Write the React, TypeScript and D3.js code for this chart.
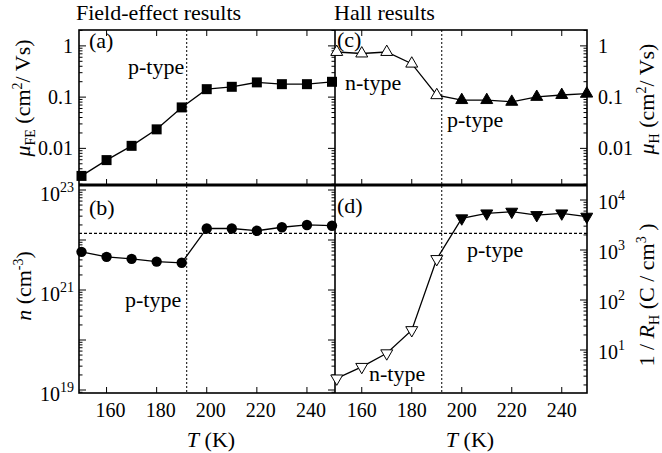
import React from 'react';
import * as d3 from 'd3';

// values
const temps = [150, 160, 170, 180, 190, 200, 210, 220, 230, 240, 250];
const muFE = [0.0029, 0.0059, 0.0112, 0.0235, 0.063, 0.143, 0.159, 0.194, 0.179, 0.179, 0.199];
const nFE = [5.8e21, 4.6e21, 4.2e21, 3.7e21, 3.5e21, 1.7e22, 1.7e22, 1.53e22, 1.8e22, 2.0e22, 1.93e22];
const muHall = [0.76, 0.71, 0.76, 0.45, 0.109, 0.0875, 0.0875, 0.081, 0.101, 0.11, 0.117];
const invRH = [2.7, 4.6, 8.6, 25, 660, 4300, 5400, 5840, 5000, 5400, 4640];
const hallType = ['n', 'n', 'n', 'n', 'n', 'p', 'p', 'p', 'p', 'p', 'p'];

const xTicks = [160, 180, 200, 220, 240];
const muLabels = [1, 0.1, 0.01];
const nLabelExp = [23, 21, 19];
const rhLabelExp = [4, 3, 2, 1];
const transitionT = 192;
const nLevel = 1.36e22;

const FONT = 'Liberation Serif, Times New Roman, DejaVu Serif, serif';

const L = 79, M = 335, R = 587, TOP = 30, MID = 185, BOT = 393;

const xL = d3.scaleLinear().domain([149, 251.2]).range([L, M]);
const xR = d3.scaleLinear().domain([149.3, 250.1]).range([M, R]);
const yMu = d3.scaleLog().domain([10 ** -2.715, 10 ** 0.31]).range([MID, TOP]);
const yN = d3.scaleLog().domain([10 ** 18.94, 10 ** 23.1]).range([BOT, MID]);
const yRH = d3.scaleLog().domain([10 ** 0.14, 10 ** 4.3]).range([BOT, MID]);

const isMajor = (v: number) => Math.abs(Math.log10(v) - Math.round(Math.log10(v))) < 1e-6;

const LogTicks = ({ scale, x, dir }: any) => {
  const [a, b] = scale.domain();
  return (
    <g stroke="#000" strokeWidth={1}>
      {scale.ticks().filter((v: number) => v >= a && v <= b).map((v: number, i: number) => {
        const len = isMajor(v) ? 7 : 3.5;
        return <line key={i} x1={x} x2={x + dir * len} y1={scale(v)} y2={scale(v)} />;
      })}
    </g>
  );
};

const XTicks = ({ scale, y, dir }: any) => (
  <g stroke="#000" strokeWidth={1}>
    {xTicks.map(t => <line key={t} x1={scale(t)} x2={scale(t)} y1={y} y2={y + dir * 6} />)}
  </g>
);

const Series = ({ xs, ys, vals, kind }: any) => {
  const pts = temps.map((t, i) => [xs(t), ys(vals[i])]);
  const path = d3.line()(pts as any);
  return (
    <g>
      <path d={path || ''} fill="none" stroke="#000" strokeWidth={1.3} />
      {pts.map(([px, py], i) => {
        if (kind === 'square') {
          return <path key={i} transform={`translate(${px},${py})`} d={d3.symbol(d3.symbolSquare, 100)() || ''} fill="#000" />;
        }
        if (kind === 'circle') {
          return <circle key={i} cx={px} cy={py} r={5.2} fill="#000" />;
        }
        const open = hallType[i] === 'n';
        const rot = kind === 'down' ? 180 : 0;
        return (
          <path key={i} transform={`translate(${px},${py}) rotate(${rot})`}
            d={d3.symbol(d3.symbolTriangle, 62)() || ''}
            fill={open ? '#fff' : '#000'} stroke="#000" strokeWidth={1} />
        );
      })}
    </g>
  );
};

const Txt = ({ x, y, children, size = 22, anchor = 'start' }: any) => (
  <text x={x} y={y} fontSize={size} textAnchor={anchor} fill="#000">{children}</text>
);

export default function App() {
  return (
    <svg width={662} height={453} style={{ position: 'absolute', left: 0, top: 0, background: '#fff', fontFamily: FONT }}>
      <rect width={662} height={453} fill="#fff" />
      <Txt x={76} y={20}>Field-effect results</Txt>
      <Txt x={334} y={20}>Hall results</Txt>

      <defs>
        <clipPath id="clipAll"><rect x={L - 6} y={TOP - 6} width={R - L + 12} height={BOT - TOP + 12} /></clipPath>
      </defs>

      {/* reference lines */}
      <line x1={xL(transitionT)} x2={xL(transitionT)} y1={TOP} y2={BOT} stroke="#000" strokeWidth={1} strokeDasharray="2,2" />
      <line x1={xR(transitionT)} x2={xR(transitionT)} y1={TOP} y2={BOT} stroke="#000" strokeWidth={1} strokeDasharray="2,2" />
      <line x1={L} x2={R} y1={yN(nLevel)} y2={yN(nLevel)} stroke="#000" strokeWidth={1.2} strokeDasharray="3,2" />

      {/* ticks */}
      <LogTicks scale={yMu} x={L} dir={1} />
      <LogTicks scale={yMu} x={M} dir={-1} />
      <LogTicks scale={yMu} x={R} dir={-1} />
      <LogTicks scale={yN} x={L} dir={1} />
      <LogTicks scale={yN} x={M} dir={-1} />
      <LogTicks scale={yRH} x={R} dir={-1} />
      <XTicks scale={xL} y={TOP} dir={1} />
      <XTicks scale={xR} y={TOP} dir={1} />
      <XTicks scale={xL} y={MID} dir={-1} />
      <XTicks scale={xR} y={MID} dir={-1} />
      <XTicks scale={xL} y={BOT} dir={-1} />
      <XTicks scale={xR} y={BOT} dir={-1} />

      {/* frames */}
      <rect x={L} y={TOP} width={R - L} height={BOT - TOP} fill="none" stroke="#000" strokeWidth={1.6} />
      <line x1={M} x2={M} y1={TOP} y2={BOT} stroke="#000" strokeWidth={1.6} />
      <line x1={L} x2={R} y1={MID} y2={MID} stroke="#000" strokeWidth={3} />

      <g clipPath="url(#clipAll)">
        <Series xs={xL} ys={yMu} vals={muFE} kind="square" />
        <Series xs={xL} ys={yN} vals={nFE} kind="circle" />
        <Series xs={xR} ys={yMu} vals={muHall} kind="up" />
        <Series xs={xR} ys={yRH} vals={invRH} kind="down" />
      </g>

      {/* tick labels */}
      {muLabels.map(v => (
        <text key={'l' + v} x={73} y={yMu(v)} dy="0.35em" fontSize={20} textAnchor="end">{v}</text>
      ))}
      {muLabels.map(v => (
        <text key={'r' + v} x={598} y={yMu(v)} dy="0.35em" fontSize={20}>{v}</text>
      ))}
      {nLabelExp.map(e => (
        <text key={'n' + e} x={40} y={yN(10 ** e)} dy="0.55em" fontSize={20}>
          10<tspan dy={-9} fontSize={14}>{e}</tspan>
        </text>
      ))}
      {rhLabelExp.map(e => (
        <text key={'h' + e} x={598} y={yRH(10 ** e)} dy="0.45em" fontSize={20}>
          10<tspan dy={-9} fontSize={14}>{e}</tspan>
        </text>
      ))}
      {xTicks.map(t => (
        <text key={'xl' + t} x={xL(t) + 4} y={417} fontSize={20} textAnchor="middle">{t}</text>
      ))}
      {xTicks.map(t => (
        <text key={'xr' + t} x={xR(t)} y={417} fontSize={20} textAnchor="middle">{t}</text>
      ))}

      {/* axis titles */}
      <text x={211} y={447} fontSize={22} textAnchor="middle">
        <tspan fontStyle="italic">T</tspan> (K)
      </text>
      <text x={470} y={447} fontSize={22} textAnchor="middle">
        <tspan fontStyle="italic">T</tspan> (K)
      </text>
      <text transform="translate(30,98) rotate(-90)" fontSize={22} textAnchor="middle">
        <tspan fontStyle="italic">μ</tspan><tspan dy={5} fontSize={14}>FE</tspan><tspan dy={-5}> (cm</tspan>
        <tspan dy={-8} fontSize={14}>2</tspan><tspan dy={8}>/ Vs)</tspan>
      </text>
      <text transform="translate(31,286) rotate(-90)" fontSize={22} textAnchor="middle">
        <tspan fontStyle="italic">n</tspan> (cm<tspan dy={-8} fontSize={14}>-3</tspan><tspan dy={8}>)</tspan>
      </text>
      <text transform="translate(654,99) rotate(-90)" fontSize={22} textAnchor="middle">
        <tspan fontStyle="italic">μ</tspan><tspan dy={5} fontSize={14}>H</tspan><tspan dy={-5}> (cm</tspan>
        <tspan dy={-8} fontSize={14}>2</tspan><tspan dy={8}>/ Vs)</tspan>
      </text>
      <text transform="translate(654,295) rotate(-90)" fontSize={22} textAnchor="middle">
        1 / <tspan fontStyle="italic">R</tspan><tspan dy={5} fontSize={14}>H</tspan><tspan dy={-5}> (C / cm</tspan>
        <tspan dy={-8} fontSize={14}>3</tspan><tspan dy={8}> )</tspan>
      </text>

      {/* panel labels and annotations */}
      <Txt x={89} y={48}>(a)</Txt>
      <Txt x={89} y={215}>(b)</Txt>
      <Txt x={337} y={47}>(c)</Txt>
      <Txt x={337} y={213}>(d)</Txt>
      <Txt x={128} y={74}>p-type</Txt>
      <Txt x={125} y={307}>p-type</Txt>
      <Txt x={345} y={90}>n-type</Txt>
      <Txt x={447} y={127}>p-type</Txt>
      <Txt x={467} y={257}>p-type</Txt>
      <Txt x={369} y={381}>n-type</Txt>
    </svg>
  );
}
